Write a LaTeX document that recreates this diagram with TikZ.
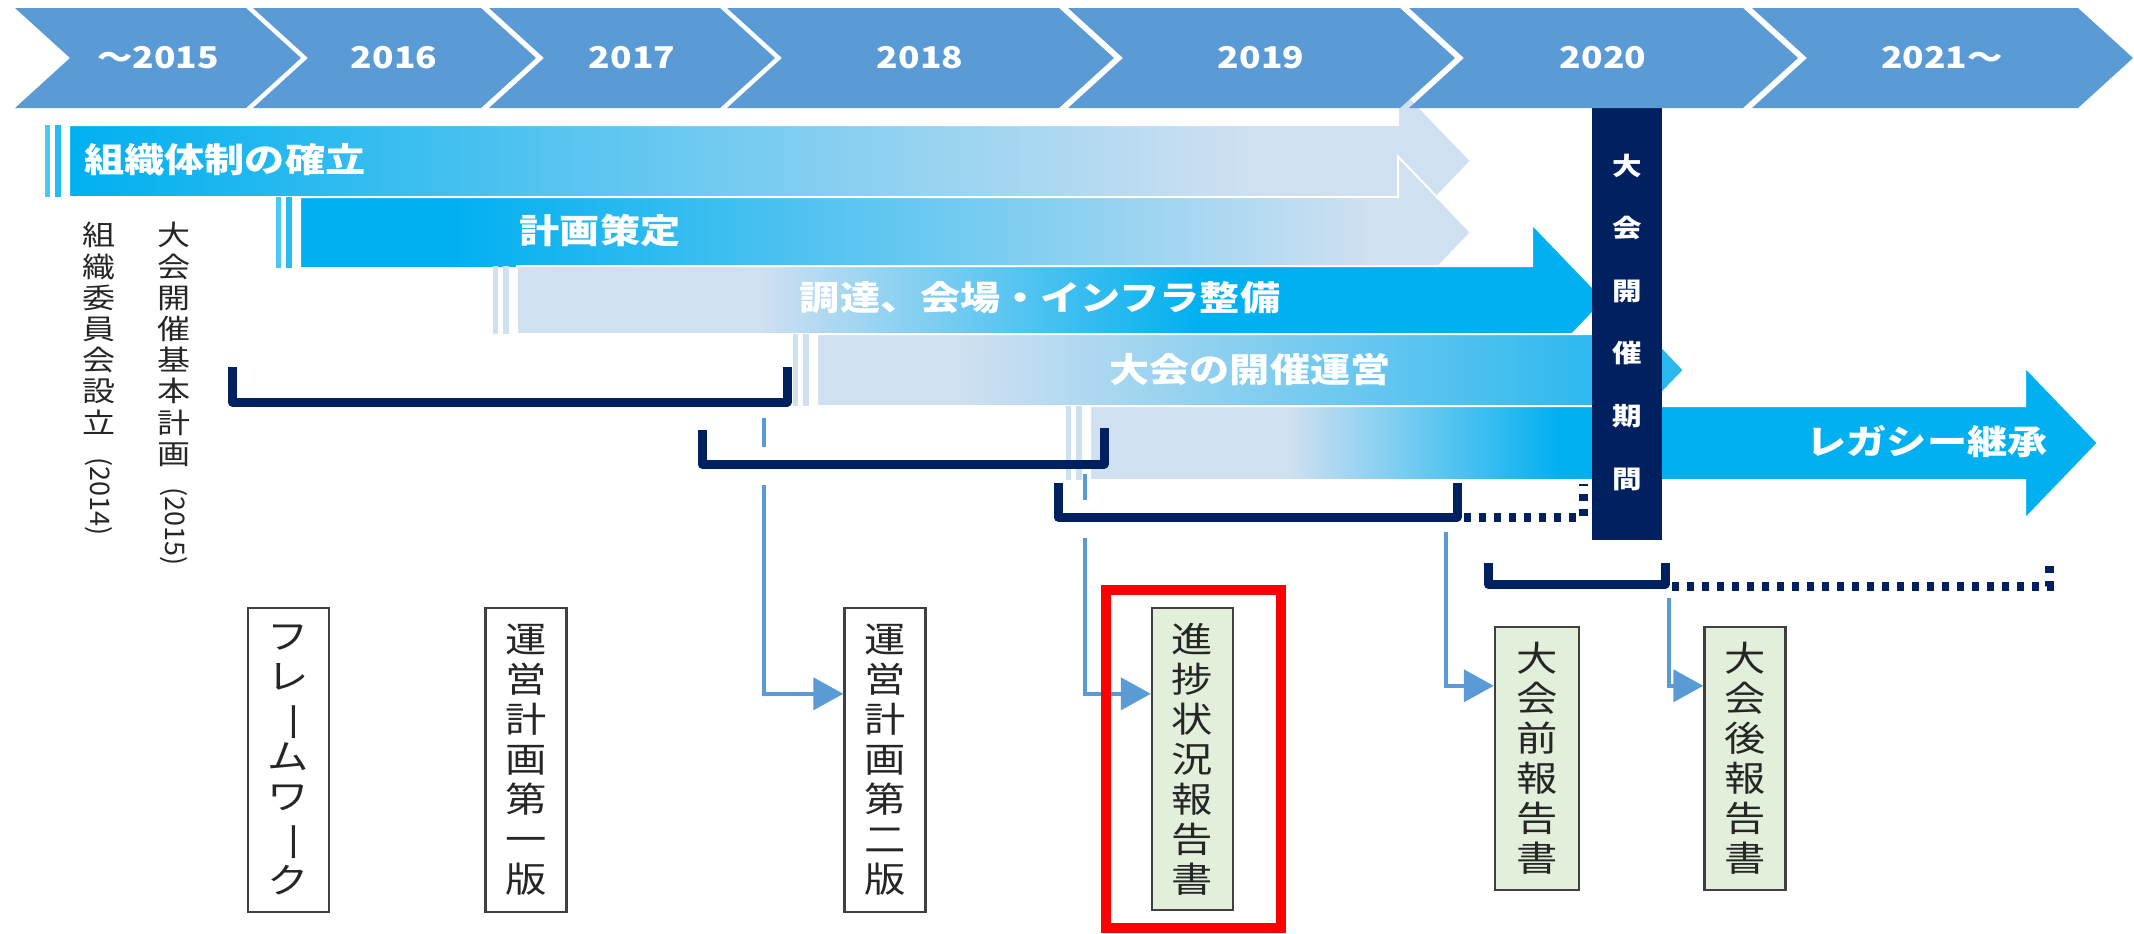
\documentclass[tikz,border=0pt]{standalone}
\usepackage{fontspec}
\usepackage{graphicx}
\setmainfont{Noto Sans CJK JP}
\newfontfamily\jp[FakeStretch=1.18]{Noto Sans CJK JP}
\usetikzlibrary{arrows.meta}
\definecolor{chev}{HTML}{5B9BD5}
\definecolor{cyanb}{HTML}{00B0F0}
\definecolor{lightb}{HTML}{CFE0F1}
\definecolor{midb}{HTML}{2BB8EF}
\definecolor{navy}{HTML}{002060}
\definecolor{conn}{HTML}{5B9BD5}
\definecolor{greenbox}{HTML}{E2EFDA}
\definecolor{txtgray}{HTML}{262626}
\definecolor{boxline}{HTML}{404040}
\newcommand{\vbar}{\rotatebox[origin=c]{-90}{ー}}
\newcommand{\arrowpath}[5]{(#1,#3) -- (#2,#3) -- (#2,{#5-76}) -- ({#2+73},#5) -- (#2,{#5+76}) -- (#2,#4) -- (#1,#4) -- cycle}
\begin{document}
\begin{tikzpicture}[x=0.5pt, y=-0.5pt,
  yearlab/.style={text=white, font=\jp\bfseries\fontsize{15}{18}\selectfont, inner sep=0pt},
  barlab/.style={text=white, font=\jp\bfseries\fontsize{17}{20}\selectfont, inner sep=0pt},
  barline/.style={draw=white, line width=1pt},
  darkbar/.style={fill=navy, minimum width=35pt, minimum height=218pt, inner sep=0pt, align=center, text=white, font=\jp\bfseries\fontsize{12.5}{31.3}\selectfont},
  bracketline/.style={draw=navy, line width=4.5pt, line join=round},
  dotline/.style={draw=navy, line width=4.5pt, dash pattern=on 3.5pt off 4pt},
  conn/.style={draw=conn, line width=2pt, -{Triangle[length=15pt,width=16pt]}},
  gapline/.style={draw=white, line width=5pt},
  docbox/.style={draw=boxline, line width=1.2pt, fill=white, minimum width=40.5pt, minimum height=152pt, inner sep=0pt, align=center, font=\jp\fontsize{17.5}{20}\selectfont, text=txtgray},
  repbox/.style={docbox, fill=greenbox},
  sidelab/.style={align=center, inner sep=0pt, text=txtgray, font=\jp\fontsize{14}{15.6}\selectfont},
  sideyear/.style={inner sep=0pt, text=txtgray, font=\fontsize{13.5}{16}\selectfont}
]
\useasboundingbox (0,0) rectangle (2134,933);

% ---- bar 1
\fill[lightb] \arrowpath{69}{1398}{125}{197}{161};
\shade[left color=cyanb, right color=lightb] (69,125) rectangle (1250,197);
\fill[cyanb!70] (45,125) rectangle (50,197);
\fill[cyanb!85] (55,125) rectangle (61,197);
\draw[barline] \arrowpath{69}{1398}{125}{197}{161};
\node[barlab, anchor=west] (t1) at (84,160) {組織体制の確立};

% ---- bar 2
\fill[lightb] \arrowpath{300}{1398}{197}{268}{232.5};
\fill[cyanb] (300,197) rectangle (450,268);
\shade[left color=cyanb, right color=lightb] (450,197) rectangle (1370,268);
\fill[cyanb!70] (276,197) rectangle (281,268);
\fill[cyanb!85] (286,197) rectangle (292,268);
\draw[barline] \arrowpath{300}{1398}{197}{268}{232.5};
\node[barlab] (t2) at (600,231) {計画策定};

% ---- bar 3
\fill[cyanb] \arrowpath{517}{1532}{266}{334}{300};
\fill[lightb] (517,266) rectangle (760,334);
\shade[left color=lightb, right color=cyanb] (760,266) rectangle (1200,334);
\fill[lightb] (493,266) rectangle (498,334);
\fill[lightb] (503,266) rectangle (509,334);
\draw[barline] \arrowpath{517}{1532}{266}{334}{300};
\node[barlab] (t3) at (1040,298) {調達、会場・インフラ整備};

% ---- bar 4
\fill[midb] \arrowpath{817}{1611}{334}{406}{370};
\fill[lightb] (817,334) rectangle (960,406);
\shade[left color=lightb, right color=midb] (960,334) rectangle (1600,406);
\fill[lightb] (793,334) rectangle (798,406);
\fill[lightb] (803,334) rectangle (809,406);
\draw[barline] \arrowpath{817}{1611}{334}{406}{370};
\node[barlab] (t4) at (1250,370) {大会の開催運営};

% ---- bar 5
\fill[cyanb] \arrowpath{1090}{2025}{406}{480}{443};
\fill[lightb] (1090,406) rectangle (1290,480);
\shade[left color=lightb, right color=cyanb] (1290,406) rectangle (1560,480);
\fill[lightb] (1066,406) rectangle (1071,480);
\fill[lightb] (1076,406) rectangle (1082,480);
\draw[barline] \arrowpath{1090}{2025}{406}{480}{443};
\node[barlab] (t5) at (1927,442) {レガシー継承};

% ---- games period bar
\node[darkbar] (period) at (1627,322) {大\\会\\開\\催\\期\\間};

% ---- chevrons
\fill[chev] (15,8) -- (246,8) -- (301,58) -- (246,108) -- (15,108) -- (70,58) -- cycle;
\fill[chev] (253,8) -- (481,8) -- (536,58) -- (481,108) -- (253,108) -- (308,58) -- cycle;
\fill[chev] (489,8) -- (720,8) -- (775,58) -- (720,108) -- (489,108) -- (544,58) -- cycle;
\fill[chev] (727,8) -- (1059,8) -- (1114,58) -- (1059,108) -- (727,108) -- (782,58) -- cycle;
\fill[chev] (1068,8) -- (1400,8) -- (1455,58) -- (1400,108) -- (1068,108) -- (1123,58) -- cycle;
\fill[chev] (1409,8) -- (1743,8) -- (1798,58) -- (1743,108) -- (1409,108) -- (1464,58) -- cycle;
\fill[chev] (1752,8) -- (2078,8) -- (2133,58) -- (2078,108) -- (1752,108) -- (1807,58) -- cycle;
\node[yearlab] (y15) at (158,58) {～2015};
\node[yearlab] (y16) at (394,58) {2016};
\node[yearlab] (y17) at (632,58) {2017};
\node[yearlab] (y18) at (920,58) {2018};
\node[yearlab] (y19) at (1261,58) {2019};
\node[yearlab] (y20) at (1603,58) {2020};
\node[yearlab] (y21) at (1942,58) {2021～};

% ---- side labels
\node[sidelab, anchor=north] (org) at (99,222) {組\\織\\委\\員\\会\\設\\立};
\node[sideyear, rotate=-90, anchor=west] (orgy) at (99,457) {(2014)};
\node[sidelab, anchor=north] (plan) at (174,222) {大\\会\\開\\催\\基\\本\\計\\画};
\node[sideyear, rotate=-90, anchor=west] (plany) at (174,487) {(2015)};

% ---- document boxes
\node[docbox] (fw) at (288.5,760) {フ\\レ\\\vbar\\ム\\ワ\\\vbar\\ク};
\node[docbox] (op1) at (526,760) {運\\営\\計\\画\\第\\一\\版};
\node[docbox] (op2) at (885,760) {運\\営\\計\\画\\第\\二\\版};
\node[repbox, minimum height=151pt] (prog) at (1192.5,759) {進\\捗\\状\\況\\報\\告\\書};
\node[repbox, minimum height=131.5pt, minimum width=42pt] (pre) at (1537,758.5) {大\\会\\前\\報\\告\\書};
\node[repbox, minimum height=131.5pt] (post) at (1745,758.5) {大\\会\\後\\報\\告\\書};

% ---- connector start points
\coordinate (s1) at (764,418);
\coordinate (s2) at (1085,474);
\coordinate (s3) at (1446,532);
\coordinate (s4) at (1669,598);

\draw[conn] (s1) |- ([yshift=-43.5pt]op2.north west);
\draw[conn] (s2) |- ([yshift=-43.5pt]prog.north west);
\draw[conn] (s3) |- ([yshift=-30pt]pre.north west);
\draw[conn] (s4) |- ([yshift=-30pt]post.north west);
\draw[gapline] (764,447) -- (764,485);
\draw[gapline] (1085,500) -- (1085,538);

% ---- brackets
\draw[bracketline] (232,367) -- (232,402) -- (787,402) -- (787,367);
\draw[bracketline] (702,430) -- (702,464) -- (1104,464) -- (1104,428);
\draw[bracketline] (1058,483) -- (1058,517) -- (1457,517) -- (1457,483);
\draw[dotline] (1464,517) -- (1583,517) -- (1583,484);
\draw[bracketline] (1488,563) -- (1488,584) -- (1665,584) -- (1665,563);
\draw[dotline] (1672,586) -- (2049,586) -- (2049,562);

% ---- highlight frame
\node[draw=red, line width=5pt, minimum width=87.5pt, minimum height=169pt, inner sep=0pt] (hl) at (1193.5,759) {};
\end{tikzpicture}
\end{document}
